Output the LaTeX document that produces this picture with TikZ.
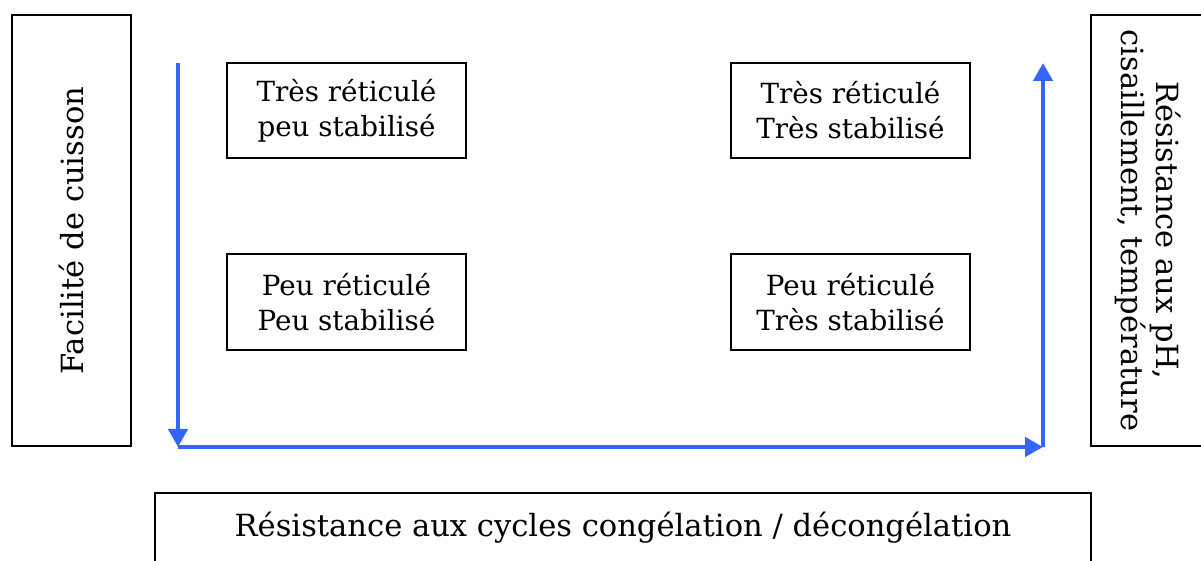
\documentclass[tikz,border=0pt]{standalone}
\usepackage{fontspec}
\setmainfont{DejaVu Serif}
\usepackage{xcolor}
\usetikzlibrary{arrows.meta}
\definecolor{ink}{HTML}{000000}
\definecolor{axisblue}{HTML}{3366FF}
\tikzset{
  box/.style={draw=ink,line width=1.1pt,align=center,inner sep=0pt},
  cell/.style={box,minimum width=4.78cm,minimum height=1.91cm,font=\fontsize{15.8}{20}\selectfont},
  big/.style={font=\fontsize{17.4}{20}\selectfont},
  axis/.style={-{Triangle[length=3.6mm,width=3.8mm]},line width=2.6pt,draw=axisblue},
}

\begin{document}
\begin{tikzpicture}
\useasboundingbox (0,0) rectangle (24.02,11.2);

% ==== four quadrants ====
\node[cell] (tl) at (6.93,8.99)  {Très réticulé\\peu stabilisé};
\node[cell] (tr) at (17.01,8.99) {Très réticulé\\Très stabilisé};
\node[cell] (bl) at (6.93,5.16)  {Peu réticulé\\Peu stabilisé};
\node[cell] (br) at (17.01,5.16) {Peu réticulé\\Très stabilisé};

% ==== side labels ====
\node[box,minimum width=2.38cm,minimum height=8.62cm] (left) at (1.43,6.59) {};
\node[big,rotate=90] (leftTxt) at (left.center) {Facilité de cuisson};
\node[box,minimum width=2.5cm,minimum height=8.62cm] (right) at (23.07,6.59) {};
\node[big,rotate=-90,align=center] (rightTxt) at ([xshift=-0.11cm]right.center)
  {Résistance aux pH,\\cisaillement, température};
\node[box,big,minimum width=18.72cm,minimum height=1.38cm] (bottom) at (12.46,0.65)
  {Résistance aux cycles congélation / décongélation};

% ==== axes ====
\coordinate (aTop)  at (3.56,9.94);
\coordinate (aLow)  at (3.56,2.26);
\coordinate (bLow)  at (20.86,2.26);
\coordinate (bTop)  at (20.86,9.94);
\draw[axis] (aTop) -- (aLow);
\draw[axis] (aLow) -- (bLow);
\draw[axis] (bLow) -- (bTop);

\end{tikzpicture}
\end{document}
